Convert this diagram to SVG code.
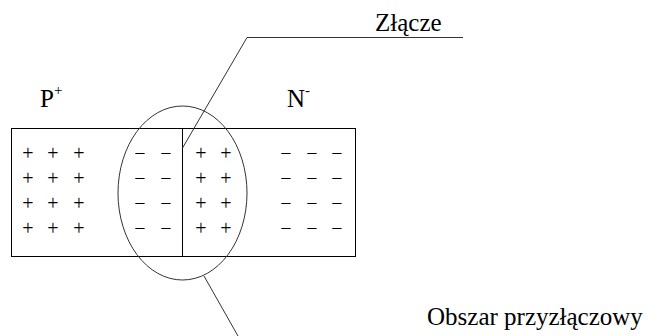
<svg xmlns="http://www.w3.org/2000/svg" width="661" height="336" viewBox="0 0 661 336">
  <style>
    .ln { fill: none; stroke: #000; stroke-width: 1; }
    .lead { fill: none; stroke: #333; stroke-width: 1; }
    .lbl { font-family: "Liberation Serif", "Times New Roman", serif; font-size: 25px; fill: #000; }
    .sup { font-family: "Liberation Serif", "Times New Roman", serif; font-size: 15px; fill: #000; }
    .sg { font-family: "Liberation Serif", "Times New Roman", serif; font-size: 20px; fill: #000; text-anchor: middle; }
  </style>
  <rect width="661" height="336" fill="#fff"/>

  <g id="semiconductor-bar">
    <rect class="ln" x="11.5" y="128.5" width="344" height="128"/>
  </g>

  <g id="junction">
    <line class="ln" x1="182.5" y1="128.5" x2="182.5" y2="256.5"/>
  </g>

  <g id="p-region">
    <text class="lbl" x="40" y="107">P<tspan class="sup" dy="-12">+</tspan></text>
    <g class="sg">
      <text x="28" y="160">+</text><text x="53" y="160">+</text><text x="79" y="160">+</text>
      <text x="28" y="185">+</text><text x="53" y="185">+</text><text x="79" y="185">+</text>
      <text x="28" y="210">+</text><text x="53" y="210">+</text><text x="79" y="210">+</text>
      <text x="28" y="235">+</text><text x="53" y="235">+</text><text x="79" y="235">+</text>
    </g>
  </g>

  <g id="depletion-region">
    <ellipse class="lead" cx="182.5" cy="193" rx="64.5" ry="87"/>
    <g class="sg">
      <text x="140" y="160">−</text><text x="166" y="160">−</text>
      <text x="140" y="185">−</text><text x="166" y="185">−</text>
      <text x="140" y="210">−</text><text x="166" y="210">−</text>
      <text x="140" y="235">−</text><text x="166" y="235">−</text>
      <text x="201" y="160">+</text><text x="226" y="160">+</text>
      <text x="201" y="185">+</text><text x="226" y="185">+</text>
      <text x="201" y="210">+</text><text x="226" y="210">+</text>
      <text x="201" y="235">+</text><text x="226" y="235">+</text>
    </g>
  </g>

  <g id="n-region">
    <text class="lbl" x="287" y="107">N<tspan class="sup" dy="-12">-</tspan></text>
    <g class="sg">
      <text x="286" y="160">−</text><text x="312" y="160">−</text><text x="337" y="160">−</text>
      <text x="286" y="185">−</text><text x="312" y="185">−</text><text x="337" y="185">−</text>
      <text x="286" y="210">−</text><text x="312" y="210">−</text><text x="337" y="210">−</text>
      <text x="286" y="235">−</text><text x="312" y="235">−</text><text x="337" y="235">−</text>
    </g>
  </g>

  <g id="connectors">
    <polyline class="lead" points="463,37.5 247,37.5 182.5,148"/>
    <line class="lead" x1="204" y1="276" x2="238" y2="336"/>
  </g>

  <g id="label-zlacze">
    <text class="lbl" x="375" y="31">Złącze</text>
  </g>

  <g id="label-obszar">
    <text class="lbl" x="427" y="325">Obszar przyzłączowy</text>
  </g>
</svg>
